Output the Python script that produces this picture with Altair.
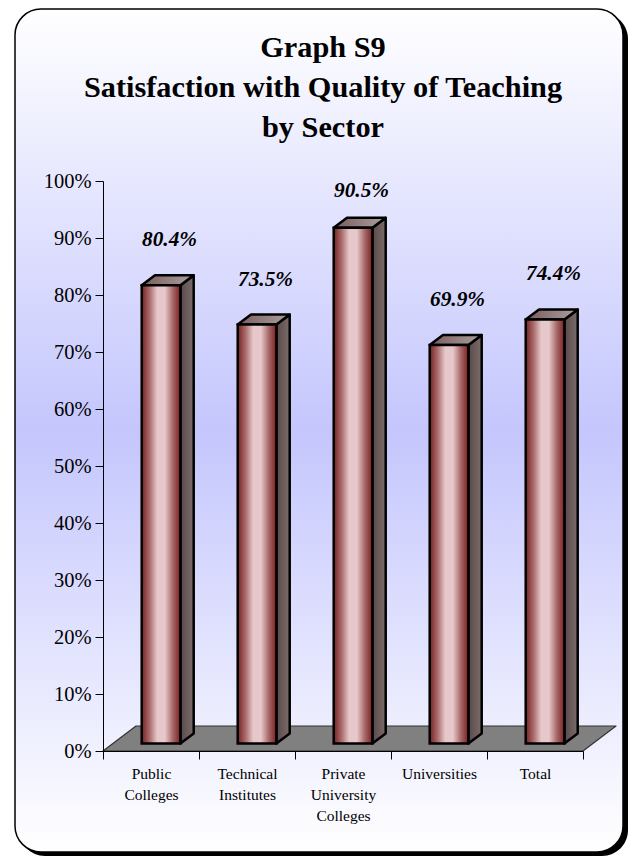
import altair as alt
import pandas as pd

sectors = ["Public|Colleges", "Technical|Institutes", "Private|University|Colleges", "Universities", "Total"]
values = [80.4, 73.5, 90.5, 69.9, 74.4]
y_ticks = list(range(0, 101, 10))
title_lines = ["Graph S9", "Satisfaction with Quality of Teaching", "by Sector"]

# pixel scale of the plot
W, H = 480, 570
PX_X = 5 / W      # category units per px
PX_Y = 100 / H    # percent per px
BAR_L, BAR_R = 38.7 * PX_X, 77.4 * PX_X
DX, DY = 13.3 * PX_X, 10 * PX_Y
LIFT = 7.5 * PX_Y
LABEL_GAP = 39 * PX_Y
LABEL_MAX = 97.2

FONT = "Liberation Serif"

fronts, sides, tops = [], [], []
for i, (s, v) in enumerate(zip(sectors, values)):
    l, r, b, t = i + BAR_L, i + BAR_R, LIFT, v + LIFT
    fronts.append(dict(s=s, v=f"{v:.1f}%", l=l, r=r, b=b, t=t, c=(l + r) / 2,
                       ly=min(t + LABEL_GAP, LABEL_MAX)))
    for k, (x, y) in enumerate([(r, b), (r + DX, b + DY), (r + DX, t + DY), (r, t)]):
        sides.append(dict(s=s, k=k, x=x, y=y))
    for k, (x, y) in enumerate([(l, t), (r, t), (r + DX, t + DY), (l + DX, t + DY)]):
        tops.append(dict(s=s, k=k, x=x, y=y))
fronts, sides, tops = map(pd.DataFrame, (fronts, sides, tops))

fx, fy = 33 * PX_X, 25 * PX_Y
floor = pd.DataFrame(dict(s="floor", k=range(4), x=[0, 5, 5 + fx, fx], y=[0, 0, fy, fy]))

X = alt.Scale(domain=[0, 5], nice=False, zero=False)
Y = alt.Scale(domain=[0, 100], nice=False)


def grad(*stops):
    n = len(stops) - 1
    return alt.LinearGradient(
        gradient="linear", x1=0, x2=1, y1=0, y2=0,
        stops=[alt.GradientStop(offset=i / n, color=c) for i, c in enumerate(stops)],
    )


one = pd.DataFrame({"a": [0]})

shadow = alt.Chart(one).mark_rect(fill="black", cornerRadius=26).encode(
    x=alt.value(-84), x2=alt.value(525), y=alt.value(-168), y2=alt.value(675))

panel = alt.Chart(one).mark_rect(
    cornerRadius=26, stroke="black", strokeWidth=1.5,
    fill=alt.LinearGradient(
        gradient="linear", x1=0, x2=0, y1=0, y2=1,
        stops=[
            alt.GradientStop(offset=0, color="#ffffff"),
            alt.GradientStop(offset=0.5, color="#c4c6fd"),
            alt.GradientStop(offset=1, color="#ffffff"),
        ],
    ),
).encode(x=alt.value(-88), x2=alt.value(520), y=alt.value(-172), y2=alt.value(671))

axis_x = alt.Chart(pd.DataFrame({"s": sectors})).mark_point(opacity=0).encode(
    x=alt.X("s:N", sort=sectors, title=None,
            scale=alt.Scale(paddingInner=0, paddingOuter=0),
            axis=alt.Axis(
                tickBand="extent", labelAngle=0, tickSize=8, tickColor="black", domainColor="black",
                labelExpr="split(datum.label,'|')", labelFont=FONT, labelFontSize=15.5,
                labelColor="black", labelLineHeight=21, labelPadding=7, labelBaseline="top",
                labelLimit=0, grid=False, labelOverlap=False, labelFlush=False, zindex=1,
            )),
)

axis_y = alt.Chart(one).mark_point(opacity=0).encode(
    y=alt.Y("a:Q", scale=Y, title=None,
            axis=alt.Axis(values=y_ticks, labelExpr="datum.value + '%'", tickSize=8, tickColor="black",
                          domainColor="black", labelFont=FONT, labelFontSize=20.5, labelColor="black",
                          labelPadding=4, grid=False, zindex=1)),
)


def poly(df, fill, stroke="black", sw=2.5):
    return alt.Chart(df).mark_line(
        interpolate="linear-closed", fill=fill, stroke=stroke, strokeWidth=sw, strokeJoin="round",
    ).encode(
        x=alt.X("x:Q", scale=X, axis=None),
        y=alt.Y("y:Q", scale=Y, axis=None),
        detail="s:N",
        order="k:O",
    )


floor_l = poly(floor, "#808080", "#333333", 1.2)
side_l = poly(sides, grad("#5c4a4a", "#7a6c6c"))
top_l = poly(tops, grad("#7a5c5c", "#aba0a0"))

front_l = alt.Chart(fronts).mark_rect(
    stroke="black", strokeWidth=2.5,
    fill=grad("#7a1f1f", "#a86a6a", "#e6c8ca", "#e6c8ca", "#a86a6a", "#7a1f1f"),
).encode(
    x=alt.X("l:Q", scale=X, axis=None), x2="r:Q",
    y=alt.Y("b:Q", scale=Y, axis=None), y2="t:Q",
)

labels = alt.Chart(fronts).mark_text(
    font=FONT, fontSize=21.3, fontStyle="italic", fontWeight="bold", color="black",
    align="center", baseline="alphabetic", dx=8.5,
).encode(
    x=alt.X("c:Q", scale=X, axis=None),
    y=alt.Y("ly:Q", scale=Y, axis=None),
    text="v:N",
)

chart = alt.layer(
    shadow, panel, floor_l, axis_x, axis_y, side_l, top_l, front_l, labels,
).resolve_scale(x="independent").resolve_axis(y="independent").properties(
    width=W, height=H,
    padding=alt.Padding(left=95, top=173, right=45, bottom=106),
    autosize=alt.AutoSizeParams(type="none"),
    title=alt.TitleParams(
        text=title_lines, font=FONT, fontSize=30.3, fontWeight="bold", color="black",
        anchor="middle", lineHeight=40, offset=-135, dx=-20, zindex=1, frame="group",
    ),
).configure_view(stroke=None)

chart.save("out.html", embed_options={"renderer": "svg", "actions": False})
